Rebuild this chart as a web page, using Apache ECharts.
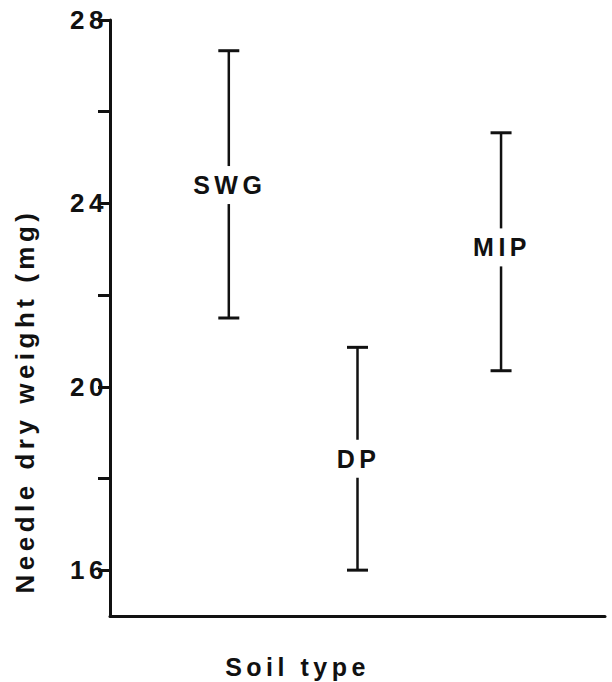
<!DOCTYPE html>
<html>
<head>
<meta charset="utf-8">
<script src="https://cdn.jsdelivr.net/npm/echarts@6/dist/echarts.min.js"></script>
<style>
  html, body { margin: 0; padding: 0; background: #fff; }
  #main { width: 612px; height: 682px; }
  /* the original lettering is widely spaced */
  #main text { letter-spacing: 4.5px; }
</style>
</head>
<body>
<div id="main"></div>
<script>
// soil types and their needle dry weight ranges (mg)
const categories = ['SWG', 'DP', 'MIP']
const xPos = [24, 50, 79]
const low = [21.5, 16.0, 20.35]
const high = [27.33, 20.86, 25.54]
const labelAt = [24.4, 18.43, 23.04]

const yTicks = [16, 18, 20, 22, 24, 26, 28]
const yLabels = [16, 20, 24, 28]

const FONT = "'Liberation Sans', Arial, Helvetica, sans-serif"
const INK = '#111'

const seriesData = categories.map((c, i) => [xPos[i], low[i], high[i], labelAt[i]])

const chart = echarts.init(document.getElementById('main'), null, { renderer: 'svg' })

chart.setOption({
  animation: false,
  backgroundColor: '#fff',
  grid: { left: 110, right: 7, top: 20, bottom: 66, outerBoundsMode: 'none' },
  xAxis: {
    type: 'value',
    min: 0,
    max: 100,
    name: 'Soil type',
    nameLocation: 'middle',
    nameGap: 38,
    nameTextStyle: {
      color: INK, fontFamily: FONT, fontWeight: 'bold', fontSize: 25,
      padding: [0, 120, 0, 0]
    },
    axisLine: { show: true, lineStyle: { color: INK, width: 3 } },
    axisTick: { show: false },
    axisLabel: { show: false },
    splitLine: { show: false }
  },
  yAxis: {
    type: 'value',
    min: 15,
    max: 28,
    name: 'Needle dry weight (mg)',
    nameLocation: 'middle',
    nameGap: 72,
    nameTextStyle: {
      color: INK, fontFamily: FONT, fontWeight: 'bold', fontSize: 26,
      padding: [0, 166, 0, 0]
    },
    axisLine: { show: true, lineStyle: { color: INK, width: 3 } },
    axisTick: {
      show: true,
      customValues: yTicks,
      length: 12,
      lineStyle: { color: INK, width: 3 }
    },
    axisLabel: {
      customValues: yLabels,
      margin: 2,
      color: INK,
      fontFamily: FONT,
      fontWeight: 'bold',
      fontSize: 26
    },
    splitLine: { show: false }
  },
  series: [{
    type: 'custom',
    data: seriesData,
    renderItem: (params, api) => {
      const x = api.value(0)
      const top = api.coord([x, api.value(2)])
      const bot = api.coord([x, api.value(1)])
      const mid = api.coord([x, api.value(3)])
      const cx = top[0]
      const half = 10.5
      const gap = 19
      const line = { stroke: INK, lineWidth: 2.5 }
      return {
        type: 'group',
        children: [
          { type: 'line', shape: { x1: cx, y1: top[1], x2: cx, y2: mid[1] - gap }, style: line },
          { type: 'line', shape: { x1: cx, y1: mid[1] + gap, x2: cx, y2: bot[1] }, style: line },
          { type: 'line', shape: { x1: cx - half, y1: top[1], x2: cx + half, y2: top[1] }, style: { stroke: INK, lineWidth: 3 } },
          { type: 'line', shape: { x1: cx - half, y1: bot[1], x2: cx + half, y2: bot[1] }, style: { stroke: INK, lineWidth: 3 } },
          {
            type: 'text',
            style: {
              text: categories[params.dataIndex],
              x: cx + 1,
              y: mid[1],
              align: 'center',
              verticalAlign: 'middle',
              fill: INK,
              font: 'bold 25px ' + FONT
            }
          }
        ]
      }
    }
  }]
})
</script>
</body>
</html>
